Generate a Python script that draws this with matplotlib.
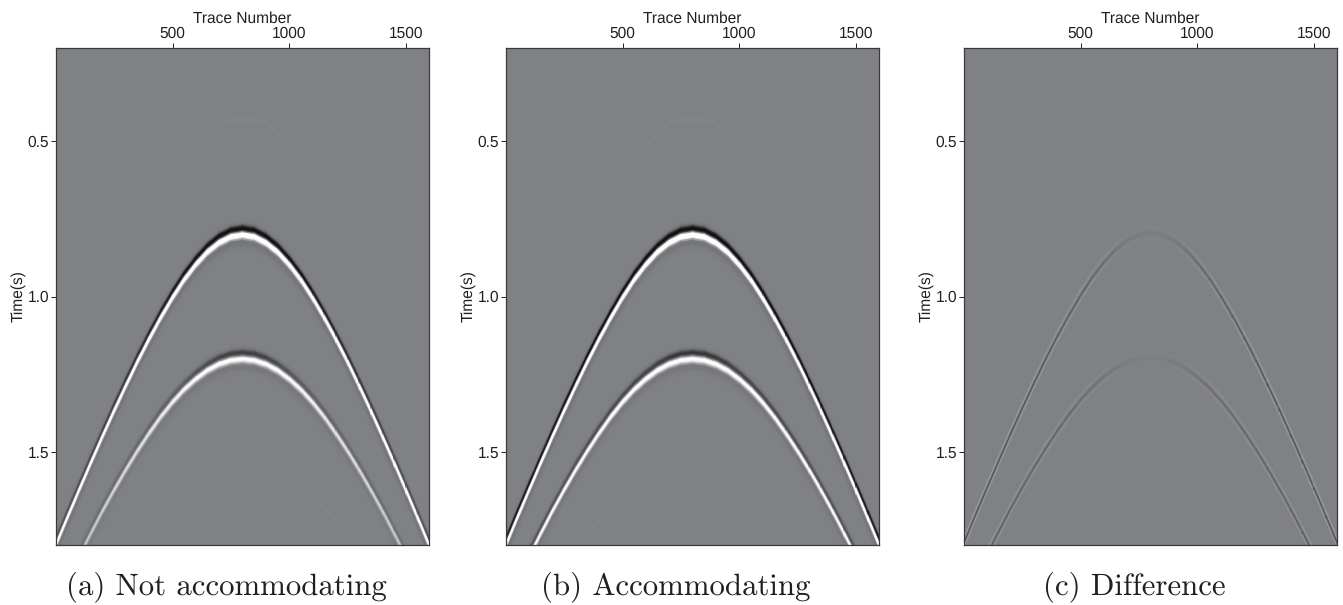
import matplotlib

matplotlib.use("Agg")

import numpy as np
from matplotlib import pyplot as plt
from matplotlib.colors import LinearSegmentedColormap

half_traces = [0, 50, 100, 150, 200, 250, 300, 350, 400, 450, 500, 550, 600, 650, 700, 750, 800]
upper_picks = [1.80, 1.710, 1.622, 1.535, 1.450, 1.367, 1.287, 1.209, 1.136, 1.067, 1.003, 0.945, 0.896, 0.855, 0.825, 0.806, 0.80]
lower_picks = [1.99, 1.912, 1.836, 1.762, 1.690, 1.622, 1.557, 1.496, 1.439, 1.386, 1.339, 1.298, 1.264, 1.236, 1.216, 1.204, 1.20]

ghost_traces = [450, 500, 550, 600, 650, 700, 750, 800]
ghost_picks = [0.79, 0.68, 0.58, 0.52, 0.47, 0.44, 0.43, 0.43]
ghost_amp = [0.02, 0.03, 0.03, 0.03, 0.03, 0.03, 0.03, 0.03]

low_ghost_traces = [330, 400, 470, 540, 605]
low_ghost_picks = [1.78, 1.72, 1.66, 1.61, 1.55]
low_ghost_amp = [0.02, 0.03, 0.03, 0.03, 0.02]

# amplitude of the dark and white lobes along each event
a_upper_dark = [0.40, 0.42, 0.45, 0.48, 0.52, 0.58, 0.65, 0.72, 0.80, 0.88, 0.95, 1.00, 1.05, 1.10, 1.15, 1.15, 1.15]
a_upper_white = [1.35] * 17
a_lower_dark = [0.12, 0.12, 0.12, 0.14, 0.16, 0.18, 0.20, 0.22, 0.24, 0.26, 0.30, 0.34, 0.40, 0.48, 0.55, 0.60, 0.60]
a_lower_white = [0.55, 0.55, 0.55, 0.58, 0.62, 0.68, 0.72, 0.75, 0.80, 0.85, 0.90, 0.95, 1.00, 1.05, 1.05, 1.05, 1.05]

b_upper_dark = [0.95, 0.95, 0.95, 0.95, 0.95, 1.00, 1.00, 1.00, 1.05, 1.05, 1.05, 1.10, 1.10, 1.15, 1.15, 1.15, 1.15]
b_upper_white = [1.40] * 17
b_lower_dark = [0.40, 0.40, 0.40, 0.40, 0.40, 0.40, 0.42, 0.44, 0.46, 0.48, 0.50, 0.52, 0.55, 0.60, 0.65, 0.68, 0.68]
b_lower_white = [1.05, 1.05, 1.05, 1.05, 1.05, 1.05, 1.05, 1.05, 1.05, 1.10, 1.10, 1.10, 1.10, 1.10, 1.10, 1.10, 1.10]

c_upper_diff = [0.42, 0.42, 0.40, 0.40, 0.40, 0.40, 0.38, 0.36, 0.34, 0.32, 0.28, 0.24, 0.18, 0.12, 0.06, 0.04, 0.04]
c_lower_diff = [0.32, 0.32, 0.32, 0.30, 0.28, 0.26, 0.26, 0.24, 0.22, 0.20, 0.18, 0.15, 0.11, 0.07, 0.04, 0.03, 0.03]

# wavelet shape against time offset from the pick
offsets = [-0.050, -0.040, -0.032, -0.026, -0.020, -0.014, -0.009, -0.004, 0.0, 0.004, 0.009, 0.014, 0.020, 0.028, 0.040, 0.055]
dark_lobe = [0, -0.02, -0.15, -0.60, -1.0, -0.70, -0.25, -0.05, 0, 0, 0, 0, 0, 0, 0, 0]
white_lobe = [0, 0, 0, 0, 0, 0, 0.20, 0.80, 1.0, 1.0, 0.70, 0.25, -0.05, -0.07, -0.02, 0]
diff_lobe = [0, 0, 0.05, 0.25, 0.50, 0.15, -0.60, -1.0, -0.60, 0.15, 0.50, 0.25, 0.03, 0, 0, 0]

x_ticks = [500, 1000, 1500]
y_ticks = [0.5, 1.0, 1.5]
captions = ["(a) Not accommodating", "(b) Accommodating", "(c) Difference"]
caption_centers = [226, 676, 1134]

WIDTH, HEIGHT = 1343, 605
TEXT_COLOR = "#231f20"
seismic = LinearSegmentedColormap.from_list("seismic_gray", ["#0c0c0e", "#808184", "#ffffff"])


def mirrored(half):
    return np.array(list(half) + list(half)[-2::-1], dtype=float)


def mirrored_traces(half):
    half = np.array(half, dtype=float)
    return np.concatenate([half, 1600 - half[-2::-1]])


def draw_event(axis, traces, picks, *parts):
    # parts: (amplitude per trace, weight per time offset), summed into one mesh
    x = np.repeat(traces[:, None], len(offsets), axis=1)
    y = picks[:, None] + np.array(offsets)[None, :]
    values = sum(amps[:, None] * np.array(lobe, dtype=float)[None, :] for amps, lobe in parts)
    axis.pcolormesh(x, y, values, shading="gouraud", cmap=seismic, vmin=-1, vmax=1)


def style_panel(axis, fig, caption, center):
    axis.set_facecolor("#808184")
    axis.set_xlim(0, 1600)
    axis.set_ylim(1.8, 0.2)
    axis.xaxis.tick_top()
    axis.xaxis.set_label_position("top")
    axis.set_xticks(x_ticks)
    axis.set_yticks(y_ticks, [f"{tick:.1f}" for tick in y_ticks])
    axis.tick_params(length=3.5, width=0.7, labelsize=11.2, color=TEXT_COLOR, labelcolor=TEXT_COLOR, pad=1.5)
    for spine in axis.spines.values():
        spine.set_linewidth(0.9)
        spine.set_color("#3a3a3c")
    axis.set_xlabel("Trace Number", fontsize=11.2, color=TEXT_COLOR, labelpad=2.2)
    axis.set_ylabel("Time(s)", fontsize=11.2, color=TEXT_COLOR)
    axis.yaxis.set_label_coords(-0.081, 0.5)
    fig.text(center / WIDTH, 1 - 587 / HEIGHT, caption, ha="center", va="center", family="cmr10", fontsize=22.2, color=TEXT_COLOR)


def main():
    plt.rcParams["font.family"] = ["Liberation Sans", "DejaVu Sans"]
    plt.rcParams["text.hinting"] = "none"
    fig = plt.figure(figsize=(WIDTH / 100, HEIGHT / 100), dpi=100)
    axes = []
    for left in [56, 506, 964]:
        axes.append(fig.add_axes([left / WIDTH, 1 - 545 / HEIGHT, 373 / WIDTH, 497 / HEIGHT]))

    traces = mirrored_traces(half_traces)
    upper = mirrored(upper_picks)
    lower = mirrored(lower_picks)

    panel_amps = [
        (a_upper_dark, a_upper_white, a_lower_dark, a_lower_white),
        (b_upper_dark, b_upper_white, b_lower_dark, b_lower_white),
    ]
    for axis, (upper_dark, upper_white, lower_dark, lower_white) in zip(axes[:2], panel_amps):
        draw_event(axis, mirrored_traces(ghost_traces), mirrored(ghost_picks), (mirrored(ghost_amp), white_lobe))
        for side in (np.array(low_ghost_traces, dtype=float), 1600 - np.array(low_ghost_traces, dtype=float)):
            draw_event(axis, side, np.array(low_ghost_picks), (np.array(low_ghost_amp), white_lobe))
        draw_event(axis, traces, lower, (mirrored(lower_dark), dark_lobe), (mirrored(lower_white), white_lobe))
        draw_event(axis, traces, upper, (mirrored(upper_dark), dark_lobe), (mirrored(upper_white), white_lobe))

    draw_event(axes[2], traces, lower, (mirrored(c_lower_diff), diff_lobe))
    draw_event(axes[2], traces, upper, (mirrored(c_upper_diff), diff_lobe))

    for axis, caption, center in zip(axes, captions, caption_centers):
        style_panel(axis, fig, caption, center)

    fig.savefig("out.png", dpi=100)
    plt.close(fig)


main()
